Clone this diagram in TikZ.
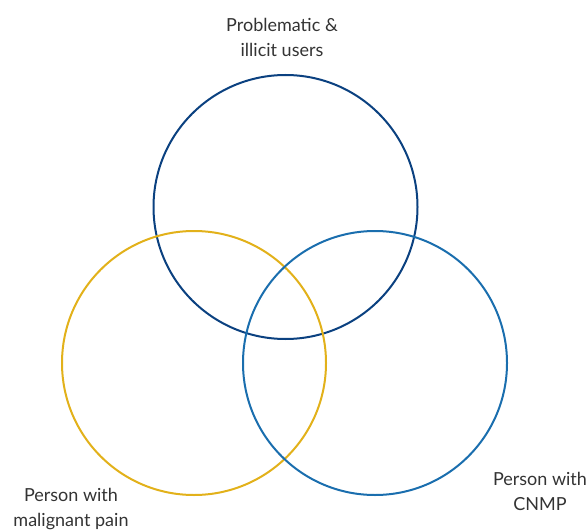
\documentclass[tikz,border=0pt]{standalone}
\usepackage{fontspec}
\setmainfont{Lato}
\definecolor{cdark}{HTML}{0B4180}
\definecolor{clight}{HTML}{1A6EAE}
\definecolor{cyellow}{HTML}{E2B11A}
\definecolor{ctext}{HTML}{333333}
\begin{document}
\begin{tikzpicture}[x=1pt,y=-1pt,
  ring/.style={draw, line width=2pt, circle, minimum size=264pt, inner sep=0pt},
  lbl/.style={align=center, text=ctext, font=\fontsize{18}{25}\selectfont}]
\useasboundingbox (0,0) rectangle (586,532);
\node[ring, draw=cdark] (pu) at (285.5,207) {};
\node[ring, draw=cyellow] (mp) at (194,363) {};
\node[ring, draw=clight] (cn) at (375,363) {};
\node[lbl] (tpu) at (282,37) {Problematic \&\\illicit users};
\node[lbl] (tmp) at (71,509) {Person with\\malignant pain};
\node[lbl] (tcn) at (540,491) {Person with\\CNMP};
\end{tikzpicture}
\end{document}
